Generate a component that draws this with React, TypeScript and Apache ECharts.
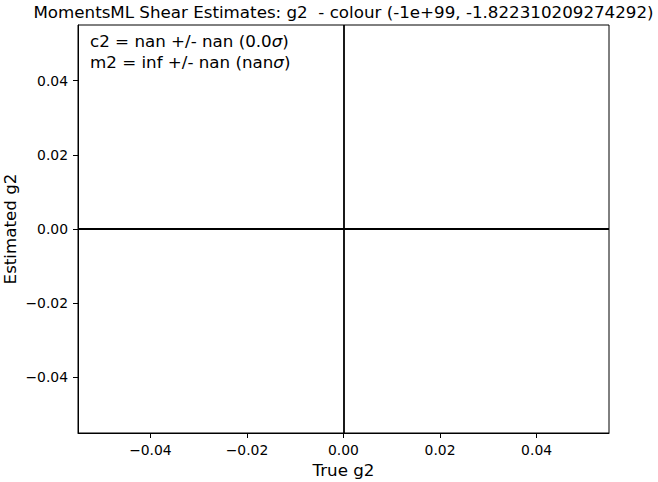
import React, { useEffect, useRef } from "react";
import * as echarts from "echarts";

const xTicks = [-0.04, -0.02, 0.0, 0.02, 0.04];
const yTicks = [-0.04, -0.02, 0.0, 0.02, 0.04];
const axisMin = -0.055;
const axisMax = 0.055;
const zeroLinesX = [0];
const zeroLinesY = [0];
const titleText = "MomentsML Shear Estimates: g2  - colour (-1e+99, -1.822310209274292)";
const xName = "True g2";
const yName = "Estimated g2";
const statLines = [
  { pre: "c2 = nan +/- nan (0.0", post: ")" },
  { pre: "m2 = inf +/- nan (nan", post: ")" },
];

const fmt = (v: number) => v.toFixed(2).replace("-", "\u2212");
const FONT = "DejaVu Sans";

export default function App() {
  const ref = useRef<HTMLDivElement>(null);
  useEffect(() => {
    document.body.style.margin = "0";
    const chart = echarts.init(ref.current!, null, { renderer: "svg" });
    const axisCommon = {
      type: "value" as const,
      min: axisMin,
      max: axisMax,
      splitLine: { show: false },
      nameMoveOverlap: false,
      axisLine: { show: true, onZero: false, lineStyle: { color: "#000", width: 1 } },
      nameTextStyle: { fontFamily: FONT, fontSize: 16.7, color: "#000" },
    };
    chart.setOption({
      animation: false,
      backgroundColor: "#fff",
      title: {
        text: titleText,
        left: 343.5,
        textAlign: "center",
        top: 3,
        padding: 0,
        textStyle: { fontFamily: FONT, fontSize: 16.7, fontWeight: "normal", color: "#000" },
      },
      grid: {
        left: 78,
        right: 49,
        top: 25,
        bottom: 49,
        containLabel: false,
        outerBoundsMode: "none",
        show: true,
        borderColor: "#000",
        borderWidth: 1,
        backgroundColor: "#fff",
      },
      xAxis: {
        ...axisCommon,
        name: xName,
        nameLocation: "middle",
        nameGap: 28,
        axisTick: { show: true, length: 5, customValues: xTicks, lineStyle: { color: "#000" } },
        axisLabel: {
          customValues: xTicks,
          formatter: fmt,
          fontFamily: FONT,
          fontSize: 13.9,
          color: "#000",
          margin: 10,
        },
      },
      yAxis: {
        ...axisCommon,
        name: yName,
        nameLocation: "middle",
        nameGap: 60,
        axisTick: { show: true, length: 5, customValues: yTicks, lineStyle: { color: "#000" } },
        axisLabel: {
          customValues: yTicks,
          formatter: fmt,
          fontFamily: FONT,
          fontSize: 13.9,
          color: "#000",
          margin: 10,
        },
      },
      series: [
        {
          type: "line",
          data: [],
          silent: true,
          markLine: {
            symbol: "none",
            silent: true,
            label: { show: false },
            lineStyle: { color: "#000", width: 1.8, type: "solid" },
            data: [
              ...zeroLinesX.map((v) => ({ xAxis: v })),
              ...zeroLinesY.map((v) => ({ yAxis: v })),
            ],
          },
        },
      ],
      graphic: statLines.map((l, i) => ({
        type: "text",
        left: 90,
        top: 32 + i * 21,
        style: {
          text: `{a|${l.pre}}{s|\u03c3}{a|${l.post}}`,
          rich: {
            a: { fontFamily: FONT, fontSize: 16.7, fill: "#000" },
            s: { fontFamily: FONT, fontSize: 16.7, fontStyle: "italic", fill: "#000" },
          },
        },
      })),
    });
    return () => chart.dispose();
  }, []);
  return <div ref={ref} style={{ width: 658, height: 482 }} />;
}
